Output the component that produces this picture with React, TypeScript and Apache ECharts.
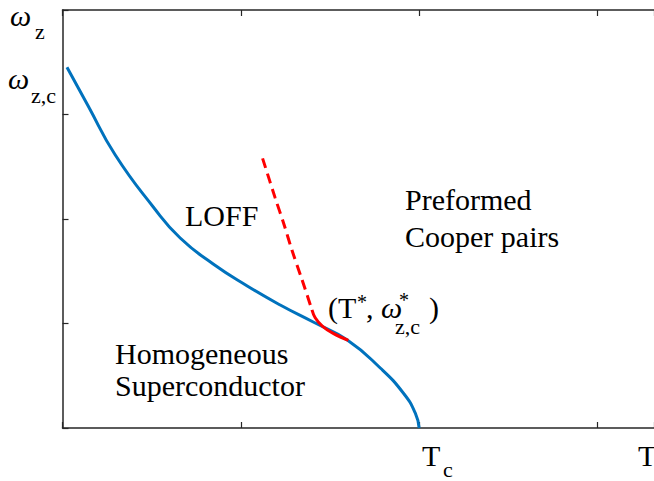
import React, { useEffect, useRef } from "react";
import * as echarts from "echarts";

// Normalised temperature T (Tc = 2) and field omega_z (axis units)
const blueT = [0.025, 0.144, 0.296, 0.509, 0.66, 0.845, 1.036, 1.221, 1.406, 1.597, 1.782, 1.911, 1.978, 2.0];
const blueW = [3.452, 3.081, 2.612, 2.115, 1.818, 1.569, 1.359, 1.177, 1.014, 0.842, 0.574, 0.335, 0.144, 0.0];

const redDashT = [1.122, 1.193, 1.24, 1.287, 1.343, 1.399];
const redDashW = [2.58, 2.2, 1.96, 1.7, 1.42, 1.13];

const redSolidT = [1.399, 1.417, 1.457, 1.518, 1.603];
const redSolidW = [1.13, 1.055, 0.975, 0.905, 0.838];

const xTicks = { min: 0, max: 3.317, interval: 1 };
const yTicks = { min: 0, max: 4, interval: 1 };

const FONT = "'Liberation Serif', 'Times New Roman', serif";
const AXIS_COLOR = "#262626";

function zip(a: number[], b: number[]) {
  return a.map((v, i) => [v, b[i]]);
}

function txt(text: string, x: number, y: number, size = 30, italic = false) {
  return {
    type: "text",
    x,
    y,
    silent: true,
    style: {
      text,
      fill: "#000",
      font: `${italic ? "italic " : ""}${size}px ${FONT}`,
      textAlign: "left",
      textVerticalAlign: "middle",
    },
  };
}

export default function App() {
  const ref = useRef<HTMLDivElement>(null);
  useEffect(() => {
    if (!ref.current) return;
    const chart = echarts.init(ref.current, undefined, { renderer: "svg" });
    const axisCommon = {
      type: "value",
      axisLine: { show: true, lineStyle: { color: AXIS_COLOR, width: 1.5 } },
      axisTick: { show: true, inside: true, length: 6, lineStyle: { color: AXIS_COLOR, width: 1.2 } },
      axisLabel: { show: false },
      splitLine: { show: false },
    };
    chart.setOption({
      animation: false,
      backgroundColor: "#fff",
      grid: { left: 62.5, top: 10, right: 0, bottom: 53, containLabel: false },
      xAxis: [
        { ...axisCommon, position: "bottom", ...xTicks },
        { ...axisCommon, position: "top", ...xTicks },
      ],
      yAxis: [{ ...axisCommon, position: "left", ...yTicks }],
      series: [
        {
          type: "line",
          data: zip(blueT, blueW),
          smooth: 0.5,
          showSymbol: false,
          lineStyle: { color: "#0072BD", width: 3 },
          z: 2,
        },
        {
          type: "line",
          data: zip(redDashT, redDashW),
          smooth: 0.3,
          showSymbol: false,
          lineStyle: { color: "#FF0000", width: 3, type: [10, 6] },
          z: 3,
        },
        {
          type: "line",
          data: zip(redSolidT, redSolidW),
          smooth: 0.4,
          showSymbol: false,
          lineStyle: { color: "#FF0000", width: 3 },
          z: 3,
        },
      ],
      graphic: [
        // y-axis labels
        txt("ω", 10, 15, 30, true),
        txt("z", 35, 31, 22),
        txt("ω", 8, 78, 30, true),
        txt("z,c", 31, 95, 22),
        // x-axis labels
        txt("T", 422, 455),
        txt("c", 443, 469, 22),
        txt("T", 638, 455),
        // region labels
        txt("LOFF", 185, 215),
        txt("Preformed", 405, 199),
        txt("Cooper pairs", 405, 236),
        txt("Homogeneous", 115, 353),
        txt("Superconductor", 115, 385),
        // critical point label
        txt("(T", 328, 307),
        txt("*", 357, 302, 20),
        txt(",", 366, 307),
        txt("ω", 381, 307, 30, true),
        txt("*", 399, 300, 20),
        txt("z,c", 395, 326, 22),
        txt(")", 429, 307),
      ],
    });
    return () => chart.dispose();
  }, []);
  return (
    <div
      ref={ref}
      style={{ position: "fixed", left: 0, top: 0, width: 654, height: 481, background: "#fff" }}
    />
  );
}
